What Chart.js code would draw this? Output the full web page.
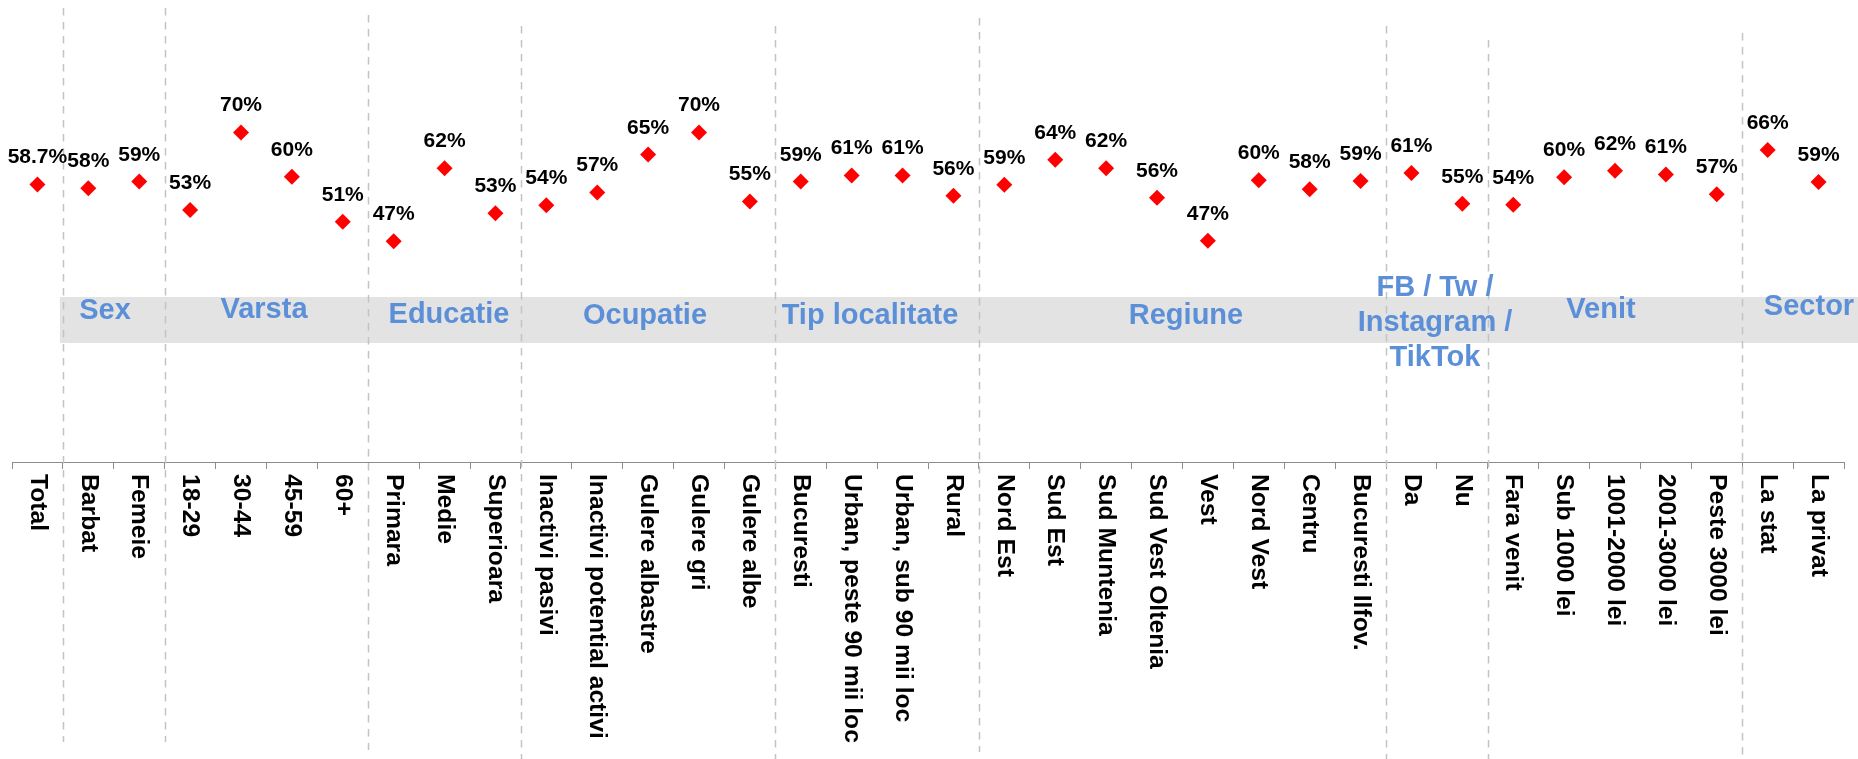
<!DOCTYPE html>
<html>
<head>
<meta charset="utf-8">
<script src="https://cdn.jsdelivr.net/npm/chart.js@4.4.1/dist/chart.umd.min.js"></script>
<style>
  html, body { margin: 0; padding: 0; background: #ffffff; }
  #wrap { width: 1858px; height: 759px; }
</style>
</head>
<body>
<div id="wrap"><canvas id="c" width="1858" height="759"></canvas></div>
<script>
// ---- DATA ----
const categories = [
  'Total',
  'Barbat', 'Femeie',
  '18-29', '30-44', '45-59', '60+',
  'Primara', 'Medie', 'Superioara',
  'Inactivi pasivi', 'Inactivi potential activi', 'Gulere albastre', 'Gulere gri', 'Gulere albe',
  'Bucuresti', 'Urban, peste 90 mii loc', 'Urban, sub 90 mii loc', 'Rural',
  'Nord Est', 'Sud Est', 'Sud Muntenia', 'Sud Vest Oltenia', 'Vest', 'Nord Vest', 'Centru', 'Bucuresti Ilfov.',
  'Da', 'Nu',
  'Fara venit', 'Sub 1000 lei', '1001-2000 lei', '2001-3000 lei', 'Peste 3000 lei',
  'La stat', 'La privat'
];
const values = [
  58.7,
  57.9, 59.3,
  53.3, 69.7, 60.3, 50.8,
  46.7, 62.1, 52.6,
  54.3, 57.0, 65.0, 69.7, 55.1,
  59.3, 60.6, 60.6, 56.3,
  58.6, 63.9, 62.1, 55.9, 46.8, 59.6, 57.7, 59.4,
  61.1, 54.6,
  54.4, 60.2, 61.6, 60.8, 56.6,
  66.0, 59.2
];
const valueLabels = [
  '58.7%',
  '58%', '59%',
  '53%', '70%', '60%', '51%',
  '47%', '62%', '53%',
  '54%', '57%', '65%', '70%', '55%',
  '59%', '61%', '61%', '56%',
  '59%', '64%', '62%', '56%', '47%', '60%', '58%', '59%',
  '61%', '55%',
  '54%', '60%', '62%', '61%', '57%',
  '66%', '59%'
];
const groupNames = [
  ['Sex'], ['Varsta'], ['Educatie'], ['Ocupatie'], ['Tip localitate'], ['Regiune'],
  ['FB / Tw /', 'Instagram /', 'TikTok'], ['Venit'], ['Sector']
];
const groupStarts = [1, 3, 7, 10, 15, 19, 27, 29, 34];

// ---- LAYOUT / STYLE (not data) ----
const FONT = '"Liberation Sans", Arial, Helvetica, sans-serif';
const sepTops =    [8, 8, 15, 26, 26, 18, 26, 40, 33];
const sepBottoms = [742, 742, 750, 759, 759, 752, 759, 759, 755];
const groupLabelX = [105, 264, 449, 645, 870, 1186, 1435, 1601, 1809];
const groupLabelBase = [[319], [318], [323], [324], [324], [324], [296, 331, 366], [318], [315]];

function boundaryX(xs, i) {
  return (xs.getPixelForValue(i - 1) + xs.getPixelForValue(i)) / 2;
}

const decorPlugin = {
  id: 'decor',
  beforeDatasetsDraw(chart) {
    const ctx = chart.ctx;
    const xs = chart.scales.x;
    ctx.save();
    // grey band
    ctx.fillStyle = '#e3e3e3';
    const bandLeft = boundaryX(xs, groupStarts[0]) - 3;
    ctx.fillRect(bandLeft, 297, chart.width - bandLeft, 46);
    // dashed separators
    ctx.strokeStyle = '#c3c3c3';
    ctx.lineWidth = 1.5;
    ctx.setLineDash([7.5, 6.5]);
    groupStarts.forEach((s, i) => {
      const x = Math.round(boundaryX(xs, s)) + 0.5;
      ctx.beginPath();
      ctx.moveTo(x, sepTops[i]);
      ctx.lineTo(x, sepBottoms[i]);
      ctx.stroke();
    });
    ctx.setLineDash([]);
    // group labels
    ctx.fillStyle = '#5b8fd8';
    ctx.font = 'bold 29px ' + FONT;
    ctx.textAlign = 'center';
    ctx.textBaseline = 'alphabetic';
    groupNames.forEach((lines, i) => {
      lines.forEach((t, j) => {
        ctx.fillText(t, groupLabelX[i], groupLabelBase[i][j]);
      });
    });
    ctx.restore();
  },
  afterDatasetsDraw(chart) {
    const ctx = chart.ctx;
    const xs = chart.scales.x;
    const meta = chart.getDatasetMeta(0);
    ctx.save();
    // value labels
    ctx.fillStyle = '#000000';
    ctx.font = 'bold 21px ' + FONT;
    ctx.textAlign = 'center';
    ctx.textBaseline = 'alphabetic';
    meta.data.forEach((pt, i) => {
      ctx.fillText(valueLabels[i], pt.x, pt.y - 21);
    });
    // category labels, rotated clockwise
    ctx.font = 'bold 24.7px ' + FONT;
    ctx.textAlign = 'left';
    ctx.textBaseline = 'middle';
    const y0 = chart.chartArea.bottom + 12;
    categories.forEach((c, i) => {
      const x = xs.getPixelForValue(i);
      ctx.save();
      ctx.translate(x, y0);
      ctx.rotate(Math.PI / 2);
      ctx.fillText(c, 0, 0);
      ctx.restore();
    });
    ctx.restore();
  }
};

new Chart(document.getElementById('c'), {
  type: 'line',
  data: {
    labels: categories,
    datasets: [{
      data: values,
      showLine: false,
      pointStyle: 'rectRot',
      pointRadius: 8,
      pointHoverRadius: 8,
      pointBackgroundColor: '#ff0000',
      pointBorderColor: '#ff0000',
      pointBorderWidth: 0
    }]
  },
  options: {
    responsive: false,
    animation: false,
    events: [],
    layout: { padding: { left: 12, right: 14, top: 3, bottom: 290 } },
    plugins: { legend: { display: false }, tooltip: { enabled: false } },
    scales: {
      x: {
        type: 'category',
        offset: true,
        grid: { offset: true, drawOnChartArea: false, drawTicks: true, tickLength: 7, color: '#8c8c8c', lineWidth: 1 },
        border: { display: true, color: '#8c8c8c', width: 1 },
        ticks: { display: false }
      },
      y: {
        display: false,
        min: 0,
        max: 96
      }
    }
  },
  plugins: [decorPlugin]
});
</script>
</body>
</html>
